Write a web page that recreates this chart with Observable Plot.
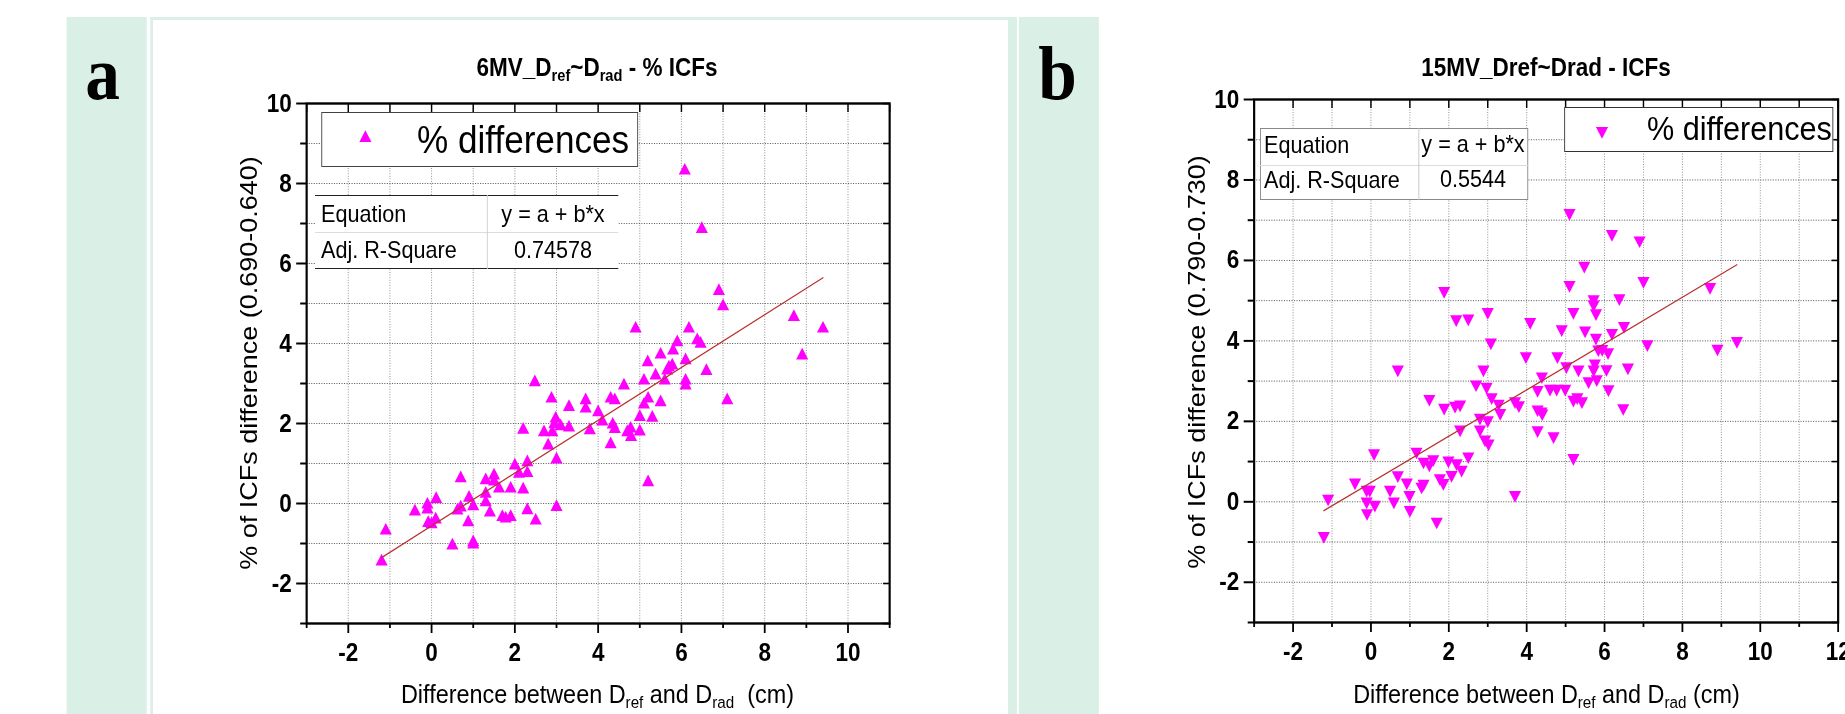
<!DOCTYPE html>
<html><head><meta charset="utf-8">
<script src="https://cdn.jsdelivr.net/npm/d3@7"></script>
<script src="https://cdn.jsdelivr.net/npm/@observablehq/plot@0.6"></script>
<style>
html,body{margin:0;padding:0;width:1845px;height:714px;overflow:hidden;background:#fff;}
#page{position:absolute;left:0;top:0;width:2400px;height:714px;transform:scaleX(0.9);transform-origin:0 0;font-family:"Liberation Sans",Arial,sans-serif;color:#000;}
.abs{position:absolute;}
sub{font-size:65%;vertical-align:-0.28em;line-height:0;}
</style></head><body><div id="page"></div>
<script>
// ---------- data (panel a: 6MV) ----------
const xA = [-1.2,-1.1,-0.4,-0.1,-0.1,-0.08,0.0,0.11,0.1,0.5,0.7,0.62,0.7,0.88,0.9,1.0,1.0,1.0,1.3,1.3,1.3,1.4,1.5,1.5,1.62,1.7,1.78,1.9,1.9,2.0,2.1,2.2,2.2,2.3,2.3,2.3,2.48,2.5,2.7,2.8,2.88,2.9,2.98,3.0,3.0,3.1,3.3,3.3,3.7,3.7,3.8,4.0,4.1,4.3,4.3,4.35,4.4,4.4,4.62,4.7,4.78,4.79,4.9,5.0,5.0,5.1,5.1,5.19,5.2,5.3,5.2,5.38,5.5,5.5,5.6,5.66,5.7,5.78,5.8,5.9,6.1,6.1,6.1,6.18,6.38,6.46,6.6,6.9,7.0,7.1,8.7,8.9,9.4,6.08,6.49,2.95];
const yA = [-1.45,-0.68,-0.2,-0.03,-0.15,-0.49,-0.52,0.11,-0.4,-1.05,0.63,-0.18,-0.1,-0.47,0.14,-0.07,-0.97,-1.03,0.58,0.24,0.03,-0.23,0.7,0.55,0.37,-0.34,-0.38,-0.34,0.37,0.95,0.74,1.84,0.35,1.03,0.76,-0.17,3.03,-0.43,1.78,1.45,2.62,1.78,2.12,1.1,-0.09,1.93,2.41,1.9,2.58,2.37,1.83,2.28,2.05,2.62,1.48,1.97,2.58,1.86,2.95,1.78,1.87,1.66,4.37,2.16,1.8,3.07,2.47,3.53,2.62,2.14,0.53,3.2,3.72,2.53,3.07,3.32,3.4,3.45,3.82,4.03,3.58,3.07,2.95,4.37,4.08,3.99,3.31,5.31,4.93,2.58,4.66,3.7,4.37,8.32,6.86,1.98];
const fitA = [-0.56, 0.66];          // intercept, slope
// ---------- data (panel b: 15MV) ----------
const xB = [-1.21,-1.1,-0.41,-0.11,-0.03,-0.11,-0.1,0.1,0.08,0.49,0.59,0.69,0.69,0.92,0.99,1.0,1.17,1.3,1.35,1.35,1.5,1.6,1.69,1.5,1.77,1.86,1.88,1.99,2.07,2.16,2.29,2.19,2.5,2.29,2.2,2.33,2.5,2.7,2.8,2.8,2.89,2.97,2.93,3.02,3.0,3.08,3.0,3.1,3.32,3.28,3.7,3.7,3.8,3.98,4.09,4.28,4.28,4.28,4.38,4.39,4.6,4.69,4.77,4.79,4.9,4.99,5.02,5.2,5.2,5.2,5.33,5.42,5.5,5.59,5.72,5.72,5.84,1.88,5.1,5.1,5.48,5.72,6.19,6.9,7.0,8.71,6.38,5.78,6.19,6.5,5.78,7.1,8.9,9.4,5.94,6.09,5.75,6.05,6.6,6.1,6.48,5.3,4.4,5.8];
const yB = [-0.85,0.08,0.48,0.3,0.3,0.01,-0.28,-0.07,1.21,0.3,0.01,0.66,3.29,0.48,0.17,-0.2,1.25,0.38,0.45,1.0,0.93,1.06,-0.49,2.56,0.59,0.47,2.34,1.03,0.67,2.39,2.42,4.54,4.56,1.8,0.96,0.8,1.13,2.92,2.09,1.8,3.29,2.86,1.55,1.45,4.72,3.96,2.03,2.6,2.21,2.44,0.17,2.5,2.4,3.62,4.47,2.78,1.78,2.3,2.25,3.12,2.81,1.63,2.81,3.62,4.29,2.81,3.37,1.09,2.54,4.72,3.29,2.5,4.26,3.0,3.29,4.91,3.79,5.24,7.18,5.39,5.87,5.04,6.66,6.5,5.49,5.34,5.06,4.69,4.2,4.37,4.08,3.92,3.81,4.0,3.8,3.72,3.44,3.3,3.34,2.8,2.33,2.6,2.2,3.05];
const fitB = [0.477, 0.576];
// ---------- ticks & labels ----------
const xTicksA = [-2,0,2,4,6,8,10];
const xTicksB = [-2,0,2,4,6,8,10,12];
const yTicks = [-2,0,2,4,6,8,10];
const stats = {A:["Equation","y = a + b*x","Adj. R-Square","0.74578"], B:["Equation","y = a + b*x","Adj. R-Square","0.5544"]};
const seriesName = "% differences";

const K = 0.9;
const P = v => v / K;
const SANS = '"Liberation Sans", Arial, sans-serif';
const SERIF = '"Liberation Serif", "Times New Roman", serif';
const GREEN = "#daf0e6";
const MAG = "#ff00ff";
const page = document.getElementById("page");

function box(x, y, w, h, style = {}) {
  const d = document.createElement("div");
  d.className = "abs";
  Object.assign(d.style, {left: P(x) + "px", top: y + "px", width: P(w) + "px", height: h + "px", boxSizing: "border-box"}, style);
  page.appendChild(d); return d;
}
function label(html, {x, baseline, size, weight = "normal", family = SANS, anchor = "middle", asc = 0.8465}) {
  const d = document.createElement("div");
  d.className = "abs";
  const W = 1400;
  const left = anchor === "middle" ? P(x) - W / 2 : anchor === "start" ? P(x) : P(x) - W;
  Object.assign(d.style, {left: left + "px", top: (baseline - asc * size) + "px", width: W + "px",
    textAlign: anchor === "middle" ? "center" : anchor === "start" ? "left" : "right",
    fontSize: size + "px", lineHeight: size + "px", fontWeight: weight, fontFamily: family, whiteSpace: "nowrap"});
  d.innerHTML = html; page.appendChild(d); return d;
}
function vlabel(text, {x, y, size}) {
  const d = document.createElement("div"); d.className = "abs";
  Object.assign(d.style, {left: P(x) + "px", top: y + "px", width: "0px", height: "0px"});
  const s = document.createElement("div");
  Object.assign(s.style, {position: "absolute", left: "0px", top: "0px", whiteSpace: "nowrap", fontSize: size + "px",
    lineHeight: size + "px", fontFamily: SANS, transform: "translate(-50%,-50%) rotate(-90deg)"});
  s.textContent = text; d.appendChild(s); page.appendChild(d);
}
function swatch(cx, cy, down) {
  const ns = "http://www.w3.org/2000/svg";
  const svg = document.createElementNS(ns, "svg");
  svg.setAttribute("width", 20); svg.setAttribute("height", 20);
  Object.assign(svg.style, {position: "absolute", left: (P(cx) - 10) + "px", top: (cy - 10) + "px"});
  const p = document.createElementNS(ns, "path");
  const s = 3.887, r3 = Math.sqrt(3);
  p.setAttribute("d", down ? `M10,${10 + 2 * s}L${10 - r3 * s},${10 - s}L${10 + r3 * s},${10 - s}Z`
                           : `M10,${10 - 2 * s}L${10 - r3 * s},${10 + s}L${10 + r3 * s},${10 + s}Z`);
  p.setAttribute("fill", MAG);
  svg.appendChild(p); page.appendChild(svg);
}

const triangleDown = {
  draw(context, size) {
    const r3 = Math.sqrt(3);
    const y = -Math.sqrt(size / (r3 * 3));
    context.moveTo(0, -y * 2);
    context.lineTo(-r3 * y, y);
    context.lineTo(r3 * y, y);
    context.closePath();
  }
};

function chart(cfg) {
  const data = cfg.xs.map((x, i) => ({x, y: cfg.ys[i]}));
  const ext = d3.extent(cfg.xs);
  const fitLine = ext.map(x => ({x, y: cfg.fit[0] + cfg.fit[1] * x}));
  const [x0, x1] = cfg.xDomain, [y0, y1] = cfg.yDomain;
  const xAll = d3.range(x0, x1 + 1), yAll = d3.range(y0, y1 + 1);
  const xInner = xAll.filter(v => v > x0 && v < x1), yInner = yAll.filter(v => v > y0 && v < y1);
  const xMinor = xAll.filter(v => !cfg.xTicks.includes(v));
  const yMinor = yAll.filter(v => !cfg.yTicks.includes(v));
  const fmt = d => String(d);
  const none = () => "";
  const W = P(cfg.ml + cfg.fw + cfg.mr), H = cfg.mt + cfg.fh + cfg.mb;
  const svg = Plot.plot({
    width: W, height: H,
    marginLeft: P(cfg.ml), marginRight: P(cfg.mr), marginTop: cfg.mt, marginBottom: cfg.mb,
    x: {domain: cfg.xDomain, axis: null},
    y: {domain: cfg.yDomain, axis: null},
    style: {background: "transparent", overflow: "visible", fontFamily: SANS, color: "#000", maxWidth: "none", width: W + "px", height: H + "px"},
    marks: [
      Plot.gridX(xInner, {stroke: "#8c8c8c", strokeOpacity: 1, strokeDasharray: "1,1.6", strokeWidth: 1}),
      Plot.gridY(yInner, {stroke: "#555", strokeOpacity: 1, strokeDasharray: "1.2,1.6", strokeWidth: 1}),
      Plot.dot(data, {x: "x", y: "y", symbol: cfg.symbol, r: 5, fill: MAG, stroke: "none"}),
      Plot.line(fitLine, {x: "x", y: "y", stroke: "#b8322f", strokeWidth: 1.3}),
      Plot.frame({stroke: "#000", strokeWidth: 2.4}),
      Plot.axisX(cfg.xTicks, {anchor: "bottom", tickSize: 10, tickPadding: 10, fontSize: 25, fontWeight: "bold", tickFormat: fmt, label: null, strokeWidth: 2}),
      Plot.axisX(xMinor, {anchor: "bottom", tickSize: 5, tickFormat: none, label: null, strokeWidth: 2}),
      Plot.axisX(xAll, {anchor: "top", tickSize: -8, tickFormat: none, label: null, strokeWidth: 1.6}),
      Plot.axisY(cfg.yTicks, {anchor: "left", tickSize: P(10), tickPadding: P(5), fontSize: 25, fontWeight: "bold", tickFormat: fmt, label: null, strokeWidth: 2}),
      Plot.axisY(yMinor, {anchor: "left", tickSize: P(6), tickFormat: none, label: null, strokeWidth: 2}),
      Plot.axisY(yAll, {anchor: "right", tickSize: -P(7), tickFormat: none, label: null, strokeWidth: 1.6})
    ]
  });
  const wrap = document.createElement("div");
  wrap.className = "abs";
  Object.assign(wrap.style, {left: P(cfg.left) + "px", top: cfg.top + "px", width: W + "px", height: H + "px"});
  wrap.appendChild(svg);
  page.appendChild(wrap);
}

// ---------- background panels ----------
box(67, 17, 80, 697, {background: GREEN});
box(150, 17, 867, 697, {borderLeft: `3px solid ${GREEN}`, borderTop: `3px solid ${GREEN}`, borderRight: `${P(9)}px solid ${GREEN}`});
box(1019, 17, 80, 697, {background: GREEN});
label("a", {x: 102.5, baseline: 99, size: 77, weight: "bold", family: SERIF, asc: 0.8375});
label("b", {x: 1057.5, baseline: 99, size: 77, weight: "bold", family: SERIF, asc: 0.8375});

// ---------- panel a ----------
chart({xs: xA, ys: yA, fit: fitA, xDomain: [-3, 11], yDomain: [-3, 10], xTicks: xTicksA, yTicks,
  symbol: "triangle", left: 160, top: 90, ml: 146, fw: 583, mr: 40, mt: 13, fh: 520, mb: 91});
label("6MV_D<sub>ref</sub>~D<sub>rad</sub> - % ICFs", {x: 597, baseline: 76, size: 25, weight: "bold"});
label("Difference between D<sub>ref</sub> and D<sub>rad</sub>&nbsp; (cm)", {x: 597.5, baseline: 703, size: 26});
vlabel("% of ICFs difference (0.690-0.640)", {x: 249, y: 363, size: 27});
box(321, 112, 317, 55, {border: "1.5px solid #444", background: "#fff"});
swatch(365, 138, false);
label(seriesName, {x: 417, baseline: 153, size: 39, anchor: "start"});
box(315, 195, 303, 74, {borderTop: "1.5px solid #222", borderBottom: "1.5px solid #222", background: "#fff"});
box(315, 232, 303, 1, {background: "#dcdcdc"});
box(487, 195, 1, 74, {background: "#cfcfcf"});
label(stats.A[0], {x: 321, baseline: 222, size: 24, anchor: "start"});
label(stats.A[1], {x: 553, baseline: 222, size: 24});
label(stats.A[2], {x: 321, baseline: 258, size: 24, anchor: "start"});
label(stats.A[3], {x: 553, baseline: 258, size: 24});

// ---------- panel b ----------
chart({xs: xB, ys: yB, fit: fitB, xDomain: [-3, 12], yDomain: [-3, 10], xTicks: xTicksB, yTicks,
  symbol: triangleDown, left: 1110, top: 86, ml: 144, fw: 584, mr: 60, mt: 13, fh: 523, mb: 91});
label("15MV_Dref~Drad - ICFs", {x: 1546, baseline: 76, size: 25, weight: "bold"});
label("Difference between D<sub>ref</sub> and D<sub>rad</sub> (cm)", {x: 1546.5, baseline: 703, size: 26});
vlabel("% of ICFs difference (0.790-0.730)", {x: 1197, y: 362, size: 27});
box(1564, 107, 269, 45, {border: "1.5px solid #333", background: "#fff"});
swatch(1602, 131, true);
label(seriesName, {x: 1647, baseline: 140, size: 34, anchor: "start"});
box(1260, 128, 268, 72, {border: "1.5px solid #888", background: "#fff"});
box(1260, 165, 268, 1, {background: "#dcdcdc"});
box(1418, 128, 1, 72, {background: "#c4c4c4"});
label(stats.B[0], {x: 1264, baseline: 153, size: 24, anchor: "start"});
label(stats.B[1], {x: 1473, baseline: 152, size: 24});
label(stats.B[2], {x: 1264, baseline: 188, size: 24, anchor: "start"});
label(stats.B[3], {x: 1473, baseline: 187, size: 24});
</script>
</body></html>
